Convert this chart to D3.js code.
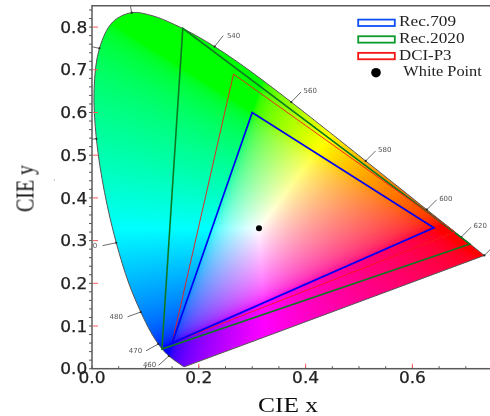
<!DOCTYPE html>
<html>
<head>
<meta charset="utf-8">
<script src="https://cdnjs.cloudflare.com/ajax/libs/d3/7.8.5/d3.min.js"></script>
<style>
  html, body { margin: 0; padding: 0; background: #fff; }
  svg { display: block; }
</style>
</head>
<body>
<div id="chartContainer"></div>
<script>
// spectral locus, read as wavelength / x / y
var wavelengths = [380,385,390,395,400,405,410,415,420,425,430,435,440,445,450,455,460,465,470,475,480,485,490,495,500,505,510,515,520,525,530,535,540,545,550,555,560,565,570,575,580,585,590,595,600,605,610,615,620,625,630,635,640,645,650,655,660,665,670,680,690,700];
var locusX = [0.1741,0.1740,0.1738,0.1736,0.1733,0.1730,0.1726,0.1721,0.1714,0.1703,0.1689,0.1669,0.1644,0.1611,0.1566,0.1510,0.1440,0.1355,0.1241,0.1096,0.0913,0.0687,0.0454,0.0235,0.0082,0.0039,0.0139,0.0389,0.0743,0.1142,0.1547,0.1929,0.2296,0.2658,0.3016,0.3373,0.3731,0.4087,0.4441,0.4788,0.5125,0.5448,0.5752,0.6029,0.6270,0.6482,0.6658,0.6801,0.6915,0.7006,0.7079,0.7140,0.7190,0.7230,0.7260,0.7283,0.7300,0.7311,0.7320,0.7334,0.7344,0.7347];
var locusY = [0.0050,0.0050,0.0049,0.0049,0.0048,0.0048,0.0048,0.0048,0.0051,0.0058,0.0069,0.0086,0.0109,0.0138,0.0177,0.0227,0.0297,0.0399,0.0578,0.0868,0.1327,0.2007,0.2950,0.4127,0.5384,0.6548,0.7502,0.8120,0.8338,0.8262,0.8059,0.7816,0.7543,0.7243,0.6923,0.6589,0.6245,0.5896,0.5547,0.5202,0.4866,0.4544,0.4242,0.3965,0.3725,0.3514,0.3340,0.3197,0.3083,0.2993,0.2920,0.2859,0.2809,0.2770,0.2740,0.2717,0.2700,0.2689,0.2680,0.2666,0.2656,0.2653];

// gamut triangles
var rec709X = [0.64,0.30,0.15], rec709Y = [0.33,0.60,0.06];
var rec2020X = [0.708,0.170,0.131], rec2020Y = [0.292,0.797,0.046];
var p3X = [0.68,0.265,0.15], p3Y = [0.32,0.69,0.06];
var whiteX = 0.3127, whiteY = 0.329;

var xTicks = [0,0.2,0.4,0.6];
var yTicks = [0,0.1,0.2,0.3,0.4,0.5,0.6,0.7,0.8];
var legendNames = ["Rec.709","Rec.2020","DCI-P3","White Point"];
var legendLengths = [57,65.5,52.5,78.5];
// marked wavelengths; the ones past the frame only keep their tick
var tickedWl = [460,470,480,490,500,510,520,540,560,580,600,620,700];
var labelledWl = [460,470,480,540,560,580,600,620];

var width = 490, height = 416;
var left = 92, bottom = 368.7;

var x = d3.scaleLinear().domain([0,0.745]).range([left, left + 534*0.745]);
var y = d3.scaleLinear().domain([0,0.85]).range([bottom, bottom - 427*0.85]);

var svg = d3.select("#chartContainer").append("svg")
  .attr("width", width).attr("height", height)
  .attr("viewBox", "0 0 " + width + " " + height);

var defs = svg.append("defs");
var soft = defs.append("filter").attr("id","soft")
  .attr("filterUnits","userSpaceOnUse")
  .attr("x",0).attr("y",0).attr("width",width).attr("height",height);
soft.append("feGaussianBlur").attr("stdDeviation",0.5);

var root = svg.append("g").attr("filter","url(#soft)");

var locus = wavelengths.map(function (w, i) { return [locusX[i], locusY[i]]; });
var line = d3.line().x(function (d) { return x(d[0]); }).y(function (d) { return y(d[1]); });
var smooth = d3.line().curve(d3.curveCatmullRom).x(function (d) { return x(d[0]); }).y(function (d) { return y(d[1]); });

// chromaticity colour for one x,y, negative channels clipped
function xyToRgb(cx, cy) {
  var X = cx / cy, Z = (1 - cx - cy) / cy;
  var r = Math.max(0,  3.2406*X - 1.5372 - 0.4986*Z);
  var g = Math.max(0, -0.9689*X + 1.8758 + 0.0415*Z);
  var b = Math.max(0,  0.0557*X - 0.2040 + 1.0570*Z);
  var m = Math.max(r,g,b);
  return [r,g,b].map(function (c) {
    c = c / m;
    c = c <= 0.0031308 ? 12.92*c : 1.055*Math.pow(c,1/2.4) - 0.055;
    return Math.round(255*c);
  });
}

var canvas = document.createElement("canvas");
canvas.width = width; canvas.height = height;
var ctx = canvas.getContext("2d");
var img = ctx.createImageData(width, height);
for (var py = 0; py < height; py++) {
  for (var px = 0; px < width; px++) {
    var cy = y.invert(py + 0.5), cx = x.invert(px + 0.5);
    if (cy <= 0.001) continue;
    var c = xyToRgb(cx, cy), k = (py*width + px)*4;
    img.data[k] = c[0]; img.data[k+1] = c[1]; img.data[k+2] = c[2]; img.data[k+3] = 255;
  }
}
ctx.putImageData(img, 0, 0);

defs.append("clipPath").attr("id","locusClip").append("path")
  .attr("d", smooth(locus) + "Z");
defs.append("clipPath").attr("id","frameClip").append("rect")
  .attr("x",left).attr("y",y(0.85)).attr("width",width-left).attr("height",bottom-y(0.85));

root.append("image")
  .attr("href", canvas.toDataURL())
  .attr("width", width).attr("height", height)
  .attr("clip-path","url(#locusClip)");

root.append("path")
  .attr("d", smooth(locus) + "Z")
  .attr("fill","none").attr("stroke","#555").attr("stroke-width",1);

// wavelength ticks, normal to the locus in chromaticity space
var wlGroup = root.append("g").attr("clip-path","url(#frameClip)");
tickedWl.forEach(function (w) {
  var i = wavelengths.indexOf(w);
  var i0 = Math.max(0,i-1), i1 = Math.min(wavelengths.length-1,i+1);
  var dx = locusX[i1] - locusX[i0], dy = locusY[i1] - locusY[i0];
  var n = Math.sqrt(dx*dx + dy*dy);
  var nx = -dy/n, ny = -dx/n;
  if (w === 700) { nx = 0.7; ny = -0.7; }
  var px = x(locusX[i]), py = y(locusY[i]);
  wlGroup.append("circle").attr("cx",px).attr("cy",py).attr("r",1.1).attr("fill","#222");
  wlGroup.append("line").attr("x1",px).attr("y1",py)
    .attr("x2",px + nx*14).attr("y2",py + ny*14)
    .attr("stroke","#444").attr("stroke-width",0.8);
  if (labelledWl.indexOf(w) < 0) return;
  wlGroup.append("text")
    .attr("x",nx > 0 ? px + 19 : px + nx*26)
    .attr("y",nx > 0 ? py - 8.6 : py + ny*13 + 2.4)
    .attr("text-anchor","middle")
    .attr("font-family","DejaVu Sans").attr("font-size",7).attr("fill","#555")
    .text(w);
});
// what is left of the 490 label after the frame cut it
wlGroup.append("text").attr("x",x(0.0056)).attr("y",y(0.2947) + 5)
  .attr("text-anchor","middle")
  .attr("font-family","DejaVu Sans").attr("font-size",7).attr("fill","#555")
  .text("0");

function triangle(xs, ys, color, w) {
  root.append("path")
    .attr("d", line(xs.map(function (v,i) { return [v, ys[i]]; })) + "Z")
    .attr("fill","none").attr("stroke",color).attr("stroke-width",w)
    .attr("stroke-linejoin","miter");
}
triangle(rec2020X, rec2020Y, "#0b7a22", 1.6);
triangle(p3X, p3Y, "#f01818", 0.9);
triangle(rec709X, rec709Y, "#0000f5", 1.7);

root.append("circle").attr("cx",x(whiteX)).attr("cy",y(whiteY)).attr("r",3).attr("fill","#000");

root.append("rect").attr("x",left).attr("y",y(0.85))
  .attr("width",width - left + 4).attr("height",bottom - y(0.85))
  .attr("fill","none").attr("stroke","#5a5a5a").attr("stroke-width",1.5);

// minor ticks
d3.range(0,0.74,0.05).forEach(function (v) {
  root.append("line").attr("x1",x(v)).attr("x2",x(v)).attr("y1",bottom).attr("y2",bottom-2.5)
    .attr("stroke","#555").attr("stroke-width",1);
});
d3.range(0,0.85,0.02).forEach(function (v) {
  root.append("line").attr("x1",left).attr("x2",left-3).attr("y1",y(v)).attr("y2",y(v))
    .attr("stroke","#555").attr("stroke-width",1);
});
// major ticks in red
xTicks.slice(1).forEach(function (v) {
  root.append("line").attr("x1",x(v)).attr("x2",x(v)).attr("y1",bottom-1).attr("y2",bottom-5)
    .attr("stroke","#ff5a5a").attr("stroke-width",1);
});
yTicks.slice(1).forEach(function (v) {
  root.append("line").attr("x1",left+1).attr("x2",left+6).attr("y1",y(v)).attr("y2",y(v))
    .attr("stroke","#ff5a5a").attr("stroke-width",1);
});

var tickFont = "DejaVu Sans";
root.selectAll(".xl").data(xTicks).enter().append("text")
  .attr("x",function (d) { return x(d); }).attr("y",bottom + 14.5)
  .attr("text-anchor","middle").attr("font-family",tickFont).attr("font-size",15).attr("fill","#222")
  .attr("stroke","#222").attr("stroke-width",0.25)
  .attr("textLength",27).attr("lengthAdjust","spacingAndGlyphs")
  .text(function (d) { return d.toFixed(1); });
root.selectAll(".yl").data(yTicks).enter().append("text")
  .attr("x",left-4.7).attr("y",function (d) { return y(d) + 5.6; })
  .attr("text-anchor","end").attr("font-family",tickFont).attr("font-size",15).attr("fill","#222")
  .attr("stroke","#222").attr("stroke-width",0.25)
  .attr("textLength",27).attr("lengthAdjust","spacingAndGlyphs")
  .text(function (d) { return d.toFixed(1); });

var serif = "Liberation Serif";
root.append("text").attr("x",288).attr("y",412)
  .attr("text-anchor","middle").attr("font-family",serif).attr("font-size",21).attr("fill","#111")
  .attr("textLength",60).attr("lengthAdjust","spacingAndGlyphs")
  .text("CIE x");
root.append("text").attr("transform","translate(33.5,188.5) rotate(-90)")
  .attr("text-anchor","middle").attr("font-family",serif).attr("font-size",25).attr("fill","#111")
  .attr("textLength",47).attr("lengthAdjust","spacingAndGlyphs")
  .text("CIE y");

// legend
var legendColors = ["#0a50f5","#0c9a2c","#f51414"];
var legendX = d3.scaleLinear().domain([0,1]).range([358.2,394.8]);
var legendY = d3.scaleBand().domain(legendNames).range([14.5,81]);
legendNames.forEach(function (name, i) {
  var yy = legendY(name) + legendY.bandwidth()/2;
  if (i < 3) {
    root.append("rect").attr("x",legendX(0)).attr("y",yy-3.2)
      .attr("width",legendX(1)-legendX(0)).attr("height",6.4)
      .attr("fill","#fff").attr("stroke",legendColors[i]).attr("stroke-width",1.8);
  } else {
    root.append("circle").attr("cx",376).attr("cy",yy).attr("r",4.8).attr("fill","#000");
  }
  root.append("text").attr("x",i < 3 ? 399 : 403.3).attr("y",yy+3.6)
    .attr("font-family",serif).attr("font-size",14).attr("fill","#222")
    .attr("textLength",legendLengths[i]).attr("lengthAdjust","spacingAndGlyphs")
    .text(name);
});

// small stray speck beside the y label in the source picture
root.append("circle").attr("cx",54.3).attr("cy",180).attr("r",0.6).attr("fill","#777");
</script>
</body>
</html>
